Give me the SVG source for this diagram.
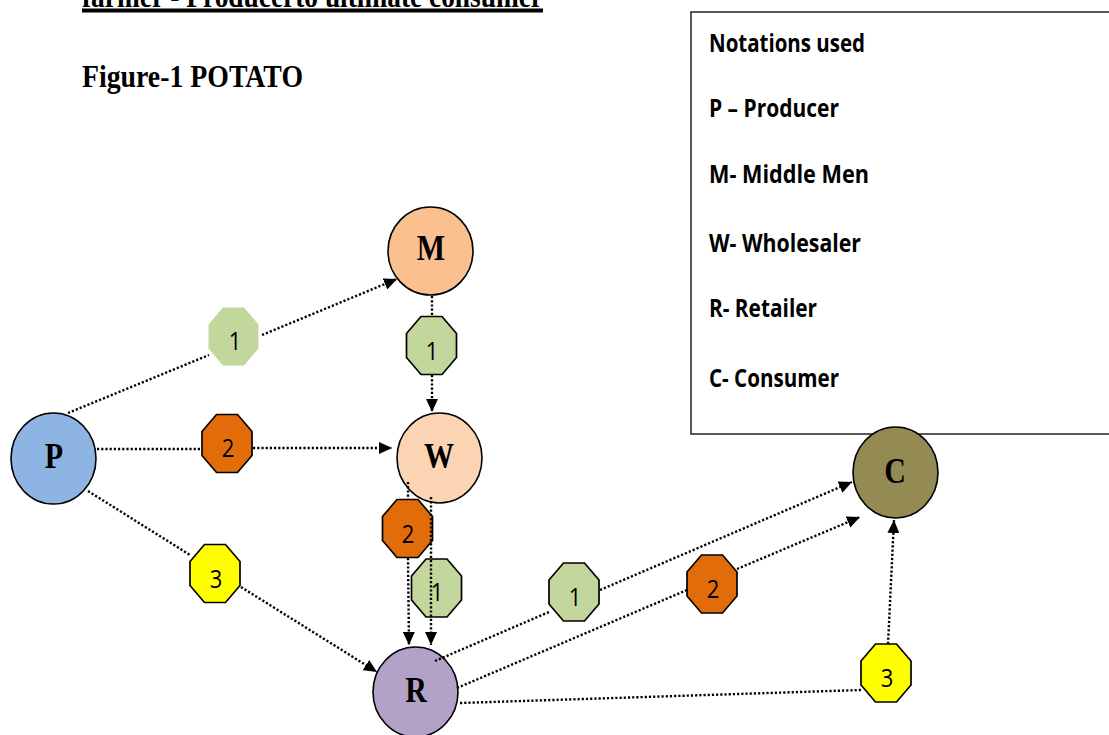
<svg xmlns="http://www.w3.org/2000/svg" xmlns:xlink="http://www.w3.org/1999/xlink" width="1109" height="735" viewBox="0 0 1109 735">
<style>
  .title { font-family: "Liberation Serif", "Times New Roman", serif; font-weight: bold; font-size: 26.5px; fill: #000; }
  .leg { font-family: "Open Sans", "Noto Sans", sans-serif; font-weight: bold; font-size: 21px; fill: #000; }
  .node { stroke: #000; stroke-width: 1.6; }
  .lbl { font-family: "Liberation Serif", "Times New Roman", serif; font-weight: bold; font-size: 30px; fill: #000; text-anchor: middle; }
  .num { font-family: "Open Sans", "Noto Sans", sans-serif; font-size: 22px; fill: #000; text-anchor: middle; }
  .oct { stroke: #000; stroke-width: 1.7; }
  .green { fill: #C3D69B; }
  .orange { fill: #E36C0A; }
  .yellow { fill: #FFFF00; }
  .con { fill: none; stroke: #000; stroke-width: 2.4; stroke-dasharray: 2.2 2; }
</style>
<defs>
  <polygon id="oct" points="-10.5,-29 10.5,-29 25,-12 25,12 10.5,29 -10.5,29 -25,12 -25,-12"/>
  <marker id="arr" markerUnits="userSpaceOnUse" markerWidth="14" markerHeight="12" refX="13" refY="6" orient="auto">
    <path d="M0,0 L13,6 L0,12 z" fill="#000"/>
  </marker>
</defs>
<rect x="0" y="0" width="1109" height="735" fill="#fff"/>

<g id="titles">
  <text class="title" transform="translate(82,7) scale(1,1.17)" textLength="461" lengthAdjust="spacingAndGlyphs">farmer - Producerto ultimate consumer</text>
  <rect x="82" y="8.5" width="461" height="4" fill="#000"/>
  <text class="title" transform="translate(82,87) scale(1,1.17)" textLength="221" lengthAdjust="spacingAndGlyphs">Figure-1 POTATO</text>
</g>

<g id="legend">
  <rect x="691" y="12" width="440" height="422" fill="#fff" stroke="#222" stroke-width="1.5"/>
  <text class="leg" transform="translate(709,52) scale(1,1.17)" textLength="156" lengthAdjust="spacingAndGlyphs">Notations used</text>
  <text class="leg" transform="translate(709,117) scale(1,1.17)" textLength="130" lengthAdjust="spacingAndGlyphs">P – Producer</text>
  <text class="leg" transform="translate(709,183) scale(1,1.17)" textLength="160" lengthAdjust="spacingAndGlyphs">M- Middle Men</text>
  <text class="leg" transform="translate(709,252) scale(1,1.17)" textLength="152" lengthAdjust="spacingAndGlyphs">W- Wholesaler</text>
  <text class="leg" transform="translate(709,317) scale(1,1.17)" textLength="108" lengthAdjust="spacingAndGlyphs">R- Retailer</text>
  <text class="leg" transform="translate(709,387) scale(1,1.17)" textLength="130" lengthAdjust="spacingAndGlyphs">C- Consumer</text>
</g>

<g id="node-P">
  <ellipse class="node" cx="53.5" cy="458.5" rx="42.5" ry="45.5" fill="#8EB4E3"/>
  <text class="lbl" transform="translate(54,468) scale(1,1.17)">P</text>
</g>
<g id="node-M">
  <ellipse class="node" cx="430.5" cy="251" rx="42.5" ry="44" fill="#FAC090"/>
  <text class="lbl" transform="translate(431,260) scale(1,1.17)">M</text>
</g>
<g id="node-W">
  <ellipse class="node" cx="439.5" cy="458" rx="42.5" ry="45" fill="#FBD4B4"/>
  <text class="lbl" transform="translate(439,468) scale(1,1.17)">W</text>
</g>
<g id="node-R">
  <ellipse class="node" cx="415.5" cy="692" rx="42.5" ry="45" fill="#B2A2C7"/>
  <text class="lbl" transform="translate(416,702) scale(1,1.17)">R</text>
</g>
<g id="node-C">
  <ellipse class="node" cx="895.5" cy="472.5" rx="42.5" ry="45.5" fill="#948A54"/>
  <text class="lbl" transform="translate(895,483) scale(1,1.17)">C</text>
</g>

<g id="badge-PM-1">
  <use xlink:href="#oct" href="#oct" x="233.5" y="336.5" class="green"/>
  <text class="num" transform="translate(235,350) scale(1,1.17)">1</text>
</g>
<g id="badge-MW-1">
  <use xlink:href="#oct" href="#oct" x="431.5" y="345.5" class="oct green"/>
  <text class="num" transform="translate(432,360) scale(1,1.17)">1</text>
</g>
<g id="badge-PW-2">
  <use xlink:href="#oct" href="#oct" x="227" y="443.5" class="oct orange"/>
  <text class="num" transform="translate(228,457) scale(1,1.17)">2</text>
</g>
<g id="badge-WR-2">
  <use xlink:href="#oct" href="#oct" x="407.5" y="528.5" class="oct orange"/>
  <text class="num" transform="translate(408,543) scale(1,1.17)">2</text>
</g>
<g id="badge-WR-1">
  <use xlink:href="#oct" href="#oct" x="436.5" y="588" class="oct green"/>
  <text class="num" transform="translate(437,601) scale(1,1.17)">1</text>
</g>
<g id="badge-PR-3">
  <use xlink:href="#oct" href="#oct" x="215" y="573.5" class="oct yellow"/>
  <text class="num" transform="translate(216,588) scale(1,1.17)">3</text>
</g>
<g id="badge-RC-1">
  <use xlink:href="#oct" href="#oct" x="574" y="592" class="oct green"/>
  <text class="num" transform="translate(575,606) scale(1,1.17)">1</text>
</g>
<g id="badge-RC-2">
  <use xlink:href="#oct" href="#oct" x="712" y="584" class="oct orange"/>
  <text class="num" transform="translate(713,598) scale(1,1.17)">2</text>
</g>
<g id="badge-RC-3">
  <use xlink:href="#oct" href="#oct" x="886" y="673" class="oct yellow"/>
  <text class="num" transform="translate(887,687) scale(1,1.17)">3</text>
</g>

<g id="connectors">
  <path class="con" d="M68,413 L209,355"/>
  <path class="con" d="M262,335 L397,279" marker-end="url(#arr)"/>
  <path class="con" d="M432,296 L432,316"/>
  <path class="con" d="M432,375 L432,412" marker-end="url(#arr)"/>
  <path class="con" d="M97,449 L201,449"/>
  <path class="con" d="M253,448 L392,448" marker-end="url(#arr)"/>
  <path class="con" d="M88,491 L190,555"/>
  <path class="con" d="M241,587 L377,672" marker-end="url(#arr)"/>
  <path class="con" d="M408,482 L408,499"/>
  <path class="con" d="M408,558 L409,645" marker-end="url(#arr)"/>
  <path class="con" d="M431,497 L431,645" marker-end="url(#arr)"/>
  <path class="con" d="M435,661 L549,612"/>
  <path class="con" d="M600,590 L852,482" marker-end="url(#arr)"/>
  <path class="con" d="M457,688 L687,590"/>
  <path class="con" d="M737,569 L860,517" marker-end="url(#arr)"/>
  <path class="con" d="M460,703 L861,690"/>
  <path class="con" d="M888,644 L894,520" marker-end="url(#arr)"/>
</g>
</svg>
